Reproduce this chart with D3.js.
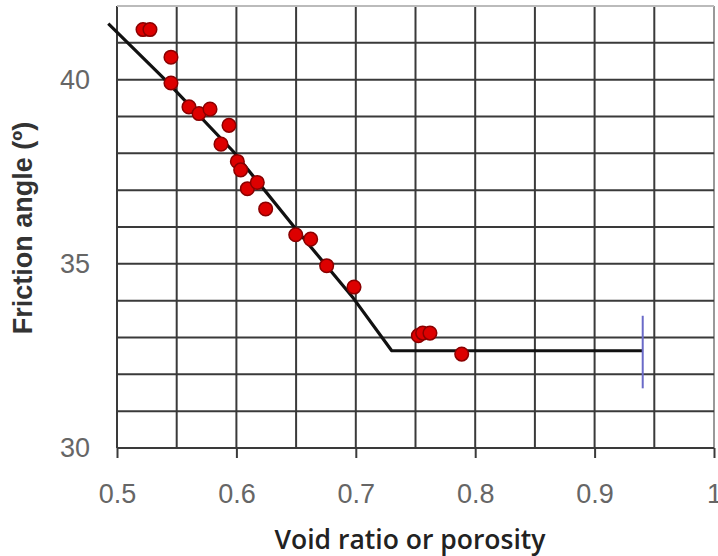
<!DOCTYPE html>
<html><head><meta charset="utf-8">
<script src="https://cdn.jsdelivr.net/npm/d3@7"></script>
<style>body{margin:0;background:#fff}svg{display:block}</style>
</head><body>
<svg id="c" width="718" height="556"></svg>
<script>
// Data
const voidRatio = [0.5218,0.5276,0.5452,0.5452,0.5603,0.5687,0.5779,0.5938,0.5871,0.6008,0.6036,0.6092,0.6175,0.6245,0.6497,0.6622,0.6756,0.6985,0.7524,0.7560,0.7621,0.7887];
const frictionAngle = [41.36,41.36,40.61,39.91,39.26,39.08,39.20,38.76,38.25,37.78,37.55,37.04,37.21,36.49,35.79,35.67,34.95,34.37,33.05,33.12,33.12,32.55];
const trendX = [0.4927,0.5388,0.5974,0.6505,0.6979,0.7301,0.9403];
const trendY = [41.52,40.05,38.05,35.92,34.07,32.64,32.64];
const markerX = [0.9403,0.9403];
const markerY = [33.59,31.62];
const xTicks = [0.5,0.6,0.7,0.8,0.9,1];
const xTickLabels = ["0.5","0.6","0.7","0.8","0.9","1"];
const yTicks = [30,35,40];
const yTickLabels = ["30","35","40"];
const xGrid = d3.range(0.5, 1.0001, 0.05);
const yGrid = d3.range(30, 42.001, 1);

const svg = d3.select("#c");
const L=117, R=714, T=6, B=448;
const x = d3.scaleLinear().domain([0.5,1]).range([L,R]);
const y = d3.scaleLinear().domain([30,42]).range([B,T]);

const g = svg.append("g");
// grid
g.selectAll(".vg").data(xGrid).join("line")
  .attr("x1",d=>x(d)).attr("x2",d=>x(d)).attr("y1",y(42)).attr("y2",y(30))
  .attr("stroke",(d,i)=> i===xGrid.length-1 ? "#999" : "#3a3a3a").attr("stroke-width",2);
g.selectAll(".hg").data(yGrid).join("line")
  .attr("x1",x(0.5)).attr("x2",x(1)).attr("y1",d=>y(d)).attr("y2",d=>y(d))
  .attr("stroke",(d,i)=> i===yGrid.length-1 ? "#bbb" : "#3a3a3a").attr("stroke-width",2);

// x axis ticks
const xa = d3.axisBottom(x).tickValues(xTicks).tickSize(10).tickFormat((d,i)=>xTickLabels[i]).tickPadding(26);
const xg = svg.append("g").attr("transform",`translate(0,${B})`).call(xa);
xg.select(".domain").remove();
xg.selectAll(".tick line").attr("stroke","#3a3a3a").attr("stroke-width",2);
xg.selectAll(".tick text").attr("fill","#666").attr("font-family","Liberation Sans, Arial, sans-serif").attr("font-size",27);

const ya = d3.axisLeft(y).tickValues(yTicks).tickSize(0).tickPadding(27).tickFormat((d,i)=>yTickLabels[i]);
const yg = svg.append("g").attr("transform",`translate(${L},0)`).call(ya);
yg.select(".domain").remove();
yg.selectAll(".tick text").attr("fill","#666").attr("font-family","Liberation Sans, Arial, sans-serif").attr("font-size",27);

// trend line
const line = d3.line().x(d=>x(d[0])).y(d=>y(d[1]));
svg.append("path").datum(d3.zip(trendX,trendY)).attr("d",line)
  .attr("fill","none").attr("stroke","#111").attr("stroke-width",3.2).attr("stroke-linejoin","round");
// marker
svg.append("path").datum(d3.zip(markerX,markerY)).attr("d",line)
  .attr("fill","none").attr("stroke","#6a6ac8").attr("stroke-width",2);

// points
svg.selectAll(".pt").data(d3.zip(voidRatio,frictionAngle)).join("circle")
  .attr("cx",d=>x(d[0])).attr("cy",d=>y(d[1])).attr("r",6.8)
  .attr("fill","#dd0000").attr("stroke","#8a0000").attr("stroke-width",1.5);

// titles
svg.append("text").attr("x",410).attr("y",549).attr("text-anchor","middle")
  .attr("font-family","Open Sans, sans-serif").attr("font-size",26.5).attr("font-weight",600).attr("fill","#222")
  .text("Void ratio or porosity");
svg.append("text").attr("transform","translate(32,228) rotate(-90)").attr("text-anchor","middle")
  .attr("font-family","Liberation Sans, Arial, sans-serif").attr("font-size",27).attr("font-weight",700).attr("fill","#333")
  .text("Friction angle (º)");
</script>
</body></html>
